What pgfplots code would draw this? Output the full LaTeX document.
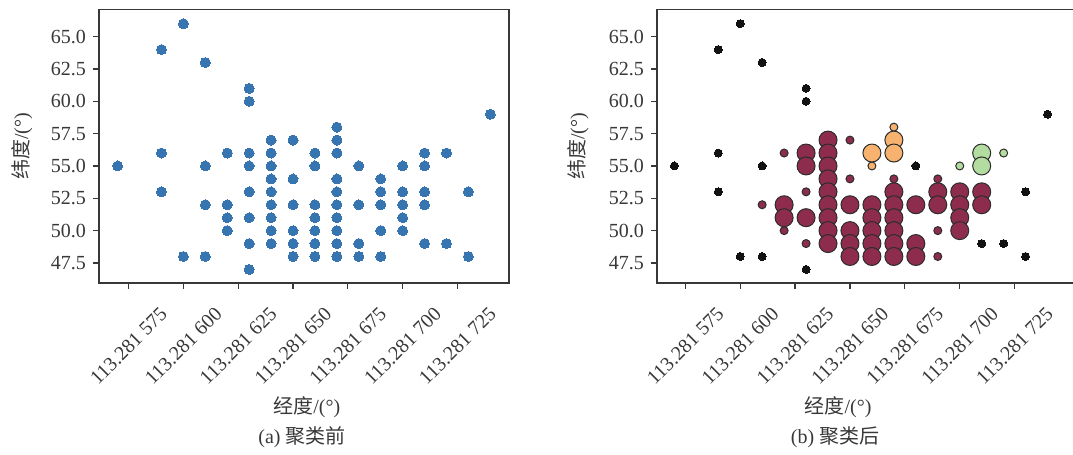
\documentclass[border=0pt]{standalone}
\usepackage{pgfplots}
\pgfplotsset{compat=1.18}
\usepackage{fontspec}
\setmainfont{Liberation Serif}
\newfontfamily\cjk{Noto Sans CJK SC}
\definecolor{ptblue}{HTML}{3675B0}
\definecolor{maroon}{HTML}{8E2C4E}
\definecolor{orng}{HTML}{F6B26E}
\definecolor{lgreen}{HTML}{B3DCA0}
\definecolor{noise}{HTML}{121212}
\definecolor{txt}{HTML}{383838}
\definecolor{edge}{HTML}{2C2C2C}
\pgfplotsset{
  common/.style={
    scale only axis,
    height=136.7pt,
    ymin=45.95, ymax=67.09,
    axis line style={draw=txt, line width=0.6pt},
    tick style={draw=txt, line width=0.6pt},
    tick align=outside,
    tick pos=left,
    major tick length=3pt,
    xtick={575,600,625,650,675,700,725},
    xticklabels={113.281 575,113.281 600,113.281 625,113.281 650,113.281 675,113.281 700,113.281 725},
    ytick={47.5,50,52.5,55,57.5,60,62.5,65},
    yticklabels={47.5,50.0,52.5,55.0,57.5,60.0,62.5,65.0},
    ticklabel style={font=\fontsize{10}{12}\selectfont, text=txt},
    xticklabel style={anchor=center, yshift=-28.5pt, rotate=45},
    label style={font=\fontsize{10}{12}\selectfont, text=txt},
    /pgf/number format/assume math mode=true,
    clip=false,
  }
}
\begin{document}
\begin{tikzpicture}
\useasboundingbox (0,0) rectangle (536.5pt,227.5pt);
% ---------- (a) ----------
\begin{axis}[common,
  at={(49.5pt,86pt)}, anchor=south west,
  width=205pt,
  xmin=561.5, xmax=748.5,
  xlabel={{\cjk 经度}/(°)},
  xlabel style={at={(axis description cs:0.507,-0.4535)}, anchor=center},
  ylabel={{\cjk 纬度}/(°)},
  ylabel style={at={(axis description cs:-0.188,0.5)}, anchor=center},
]
\addplot[only marks, color=ptblue, mark=*, mark size=2.5pt, mark options={draw=ptblue, fill=ptblue, line width=0pt}] table {
x y
570 55
590 64
590 56
590 53
600 66
600 48
610 63
610 55
610 52
610 48
620 56
620 52
620 51
620 50
630 61
630 60
630 56
630 55
630 53
630 51
630 49
630 47
640 57
640 56
640 55
640 54
640 53
640 52
640 51
640 50
640 49
650 57
650 54
650 52
650 50
650 49
650 48
660 56
660 55
660 52
660 51
660 50
660 49
660 48
670 58
670 57
670 56
670 54
670 53
670 52
670 51
670 50
670 49
670 48
680 55
680 52
680 49
680 48
690 54
690 53
690 52
690 50
690 48
700 55
700 53
700 52
700 51
700 50
710 56
710 55
710 53
710 52
710 49
720 56
720 49
730 53
730 48
740 59
};
\node[font=\fontsize{10}{12}\selectfont, text=txt] at (axis description cs:0.495,-0.563) {(a) {\cjk 聚类前}};
\end{axis}
% ---------- (b) ----------
\begin{axis}[common,
  at={(328.5pt,86pt)}, anchor=south west,
  width=209pt,
  xmin=562.1, xmax=752.5,
  xlabel={{\cjk 经度}/(°)},
  xlabel style={at={(axis description cs:0.433,-0.4535)}, anchor=center},
  ylabel={{\cjk 纬度}/(°)},
  ylabel style={at={(axis description cs:-0.189,0.5)}, anchor=center},
]
% noise
\addplot[only marks, color=noise, mark=*, mark size=2pt, mark options={draw=noise, fill=noise, line width=0pt}] table {
x y
570 55
590 64
590 56
590 53
600 66
600 48
610 63
610 55
610 48
630 61
630 60
630 47
680 55
710 49
720 49
730 53
730 48
740 59
};
% cluster 0 border
\addplot[only marks, mark=*, mark size=2pt, mark options={draw=edge, line width=0.5pt, fill=maroon}] table {
x y
610 52
620 56
620 50
630 53
630 49
650 57
650 54
670 54
690 54
690 50
690 48
};
% cluster 0 core
\addplot[only marks, mark=*, mark size=4.5pt, mark options={draw=edge, line width=0.5pt, fill=maroon}] table {
x y
620 52
620 51
630 56
630 55
630 51
640 57
640 56
640 55
640 54
640 53
640 52
640 51
640 50
640 49
650 52
650 50
650 49
650 48
660 52
660 51
660 50
660 49
660 48
670 53
670 52
670 51
670 50
670 49
670 48
680 52
680 49
680 48
690 53
690 52
700 53
700 52
700 51
700 50
710 53
710 52
};
% cluster 1
\addplot[only marks, mark=*, mark size=2pt, mark options={draw=edge, line width=0.5pt, fill=orng}] table {
x y
660 55
670 58
};
\addplot[only marks, mark=*, mark size=4.5pt, mark options={draw=edge, line width=0.5pt, fill=orng}] table {
x y
660 56
670 57
670 56
};
% cluster 2
\addplot[only marks, mark=*, mark size=2pt, mark options={draw=edge, line width=0.5pt, fill=lgreen}] table {
x y
700 55
720 56
};
\addplot[only marks, mark=*, mark size=4.5pt, mark options={draw=edge, line width=0.5pt, fill=lgreen}] table {
x y
710 56
710 55
};
\node[font=\fontsize{10}{12}\selectfont, text=txt] at (axis description cs:0.426,-0.563) {(b) {\cjk 聚类后}};
\end{axis}
\end{tikzpicture}
\end{document}
